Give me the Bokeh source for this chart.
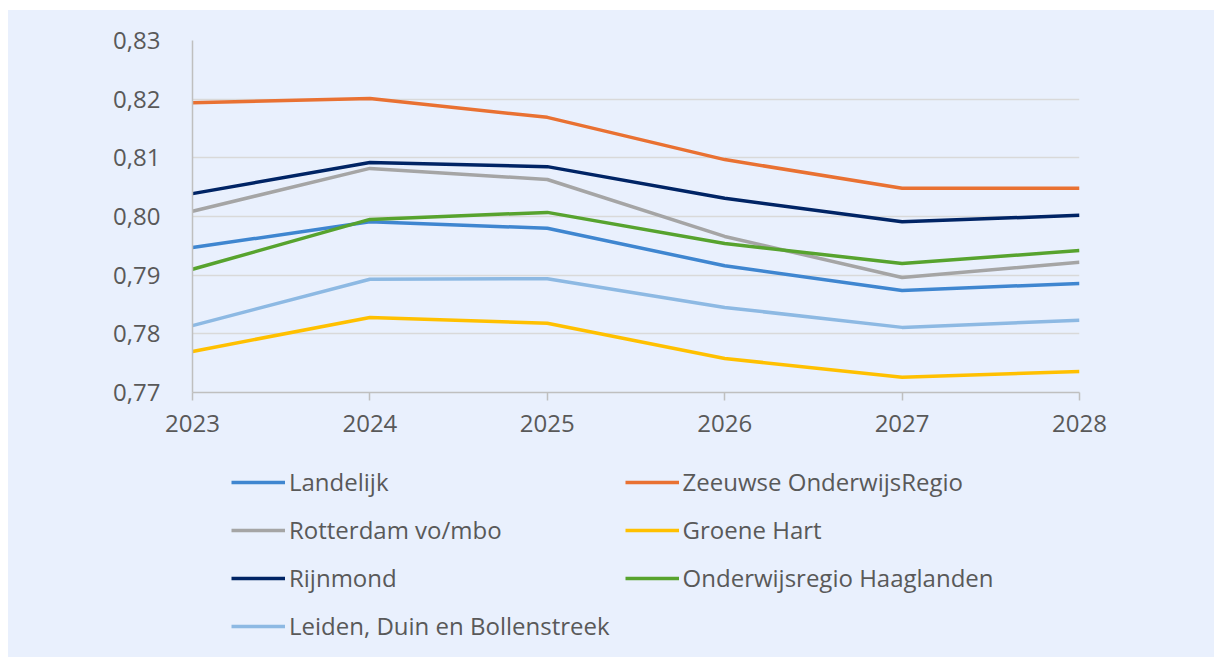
from bokeh.plotting import figure
from bokeh.models import Legend, LegendItem, Range1d, FixedTicker, CustomJSTickFormatter
from bokeh.layouts import column
from bokeh.embed import file_html
from bokeh.resources import INLINE

years = [2023, 2024, 2025, 2026, 2027, 2028]
landelijk = [0.7947, 0.7991, 0.7980, 0.7916, 0.7874, 0.7886]
zeeuwse = [0.8194, 0.8201, 0.8169, 0.8097, 0.8048, 0.8048]
rotterdam = [0.8009, 0.8082, 0.8063, 0.7966, 0.7896, 0.7922]
groene_hart = [0.7770, 0.7828, 0.7818, 0.7758, 0.7726, 0.7736]
rijnmond = [0.8039, 0.8092, 0.8085, 0.8031, 0.7991, 0.8002]
haaglanden = [0.7910, 0.7995, 0.8007, 0.7954, 0.7920, 0.7942]
leiden = [0.7814, 0.7893, 0.7894, 0.7845, 0.7811, 0.7823]

names = ["Landelijk", "Zeeuwse OnderwijsRegio", "Rotterdam vo/mbo", "Groene Hart",
         "Rijnmond", "Onderwijsregio Haaglanden", "Leiden, Duin en Bollenstreek"]
series = [landelijk, zeeuwse, rotterdam, groene_hart, rijnmond, haaglanden, leiden]
colors = ["#3F86D0", "#E97132", "#A5A5A5", "#FFC000", "#002465", "#57A32E", "#8DB9E3"]
yticks = [0.77, 0.78, 0.79, 0.80, 0.81, 0.82, 0.83]

BG = "#E9F0FD"
TXT = "#595959"
FONT = "Open Sans"
LW = 3.5

p = figure(width=1206, height=445, output_backend="svg", toolbar_location=None,
           x_range=Range1d(2023, 2028), y_range=Range1d(0.77, 0.83),
           min_border_left=184, min_border_right=135, min_border_top=30,
           min_border_bottom=63)
p.margin = 0
p.background_fill_color = None
p.border_fill_color = BG
p.outline_line_color = None

p.xgrid.visible = False
p.ygrid.grid_line_color = "#D9D9D9"
p.ygrid.grid_line_width = 1.5
p.ygrid.ticker = FixedTicker(ticks=yticks)

p.yaxis.ticker = FixedTicker(ticks=yticks)
p.yaxis.formatter = CustomJSTickFormatter(code="return tick.toFixed(2).replace('.', ',');")
p.yaxis.axis_line_color = "#BFBFBF"
p.yaxis.axis_line_width = 1.5
p.yaxis.major_tick_line_color = None
p.yaxis.minor_tick_line_color = None
p.yaxis.major_label_standoff = 26

p.xaxis.ticker = FixedTicker(ticks=years)
p.xaxis.axis_line_color = "#BFBFBF"
p.xaxis.axis_line_width = 1.5
p.xaxis.major_tick_line_color = "#BFBFBF"
p.xaxis.major_tick_line_width = 1.5
p.xaxis.major_tick_in = 0
p.xaxis.major_tick_out = 8
p.xaxis.minor_tick_line_color = None
p.xaxis.major_label_standoff = 14

for ax in (p.xaxis, p.yaxis):
    ax.major_label_text_font = FONT
    ax.major_label_text_font_size = "24px"
    ax.major_label_text_color = TXT

for vals, col in zip(series, colors):
    p.line(years, vals, line_color=col, line_width=LW)

# legend figure (series drawn off-range, only their legend glyphs show)
q = figure(width=1206, height=202, output_backend="svg", toolbar_location=None,
           x_range=Range1d(0, 1), y_range=Range1d(0, 1),
           min_border_left=184, min_border_right=135, min_border_top=0, min_border_bottom=0)
q.margin = 0
q.axis.visible = False
q.grid.visible = False
q.background_fill_color = None
q.border_fill_color = BG
q.outline_line_color = None

items = []
for name, vals, col in zip(names, series, colors):
    r = q.line(years, vals, line_color=col, line_width=LW)
    items.append(LegendItem(label=name, renderers=[r]))

legend = Legend(items=items, location=(39, 15), orientation="horizontal", ncols=2)
legend.background_fill_alpha = 0
legend.border_line_color = None
legend.label_text_font = FONT
legend.label_text_font_size = "24px"
legend.label_text_color = TXT
legend.glyph_width = 54
legend.glyph_height = 24
legend.label_height = 24
legend.label_width = 310
legend.label_standoff = 4
legend.spacing = 15
legend.padding = 5
legend.margin = 0
q.add_layout(legend, "center")

layout = column(p, q, spacing=0)
layout.margin = (10, 0, 0, 8)
layout.styles = {"background-color": BG}

open("out.html", "w").write(file_html(layout, INLINE))
